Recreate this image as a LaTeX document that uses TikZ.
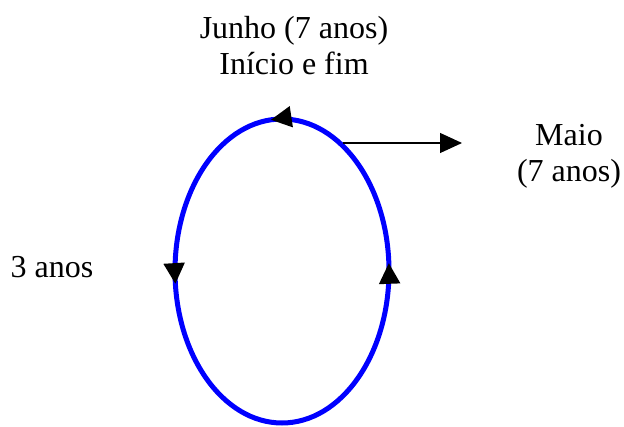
\documentclass[tikz,border=0pt]{standalone}
\usepackage{fontspec}
\setmainfont{Liberation Serif}
\usepackage{tikz}
\usetikzlibrary{arrows.meta, decorations.markings}
\tikzset{
  rotulo/.style={font=\fontsize{32}{36}\selectfont, align=center, inner sep=0pt},
  ponta/.tip={Triangle[length=21pt, width=20pt, color=black]},
  ciclo/.style={draw=blue, line width=5pt, postaction={decorate},
                decoration={markings,
                  mark=at position 0.014 with {\arrow{ponta}},
                  mark=at position 0.266 with {\arrow{ponta}},
                  mark=at position 0.760 with {\arrow{ponta}}}},
  seta/.style={-{Triangle[length=22pt, width=20pt]}, line width=1.2pt},
}

\begin{document}
\begin{tikzpicture}[x=1pt, y=-1pt]
  \useasboundingbox (0,0) rectangle (624,427);

  % Cycle
  \coordinate (centro) at (282,271);
  \coordinate (topo) at (282,119);
  \draw [ciclo] (topo) arc[start angle=270, end angle=-90, x radius=107, y radius=152];

  % Labels
  \node [rotulo, anchor=base] (junho) at (294,75) {Junho (7 anos)\\Início e fim};
  \node [rotulo, anchor=base] (maio) at (569,182) {Maio\\(7 anos)};
  \node [rotulo, anchor=base] (tres) at (52,278) {3 anos};

  % Arrow
  \coordinate (saida) at (343,143);
  \coordinate (fim) at (462,143);
  \draw [seta] (saida) -- (fim);
\end{tikzpicture}
\end{document}
